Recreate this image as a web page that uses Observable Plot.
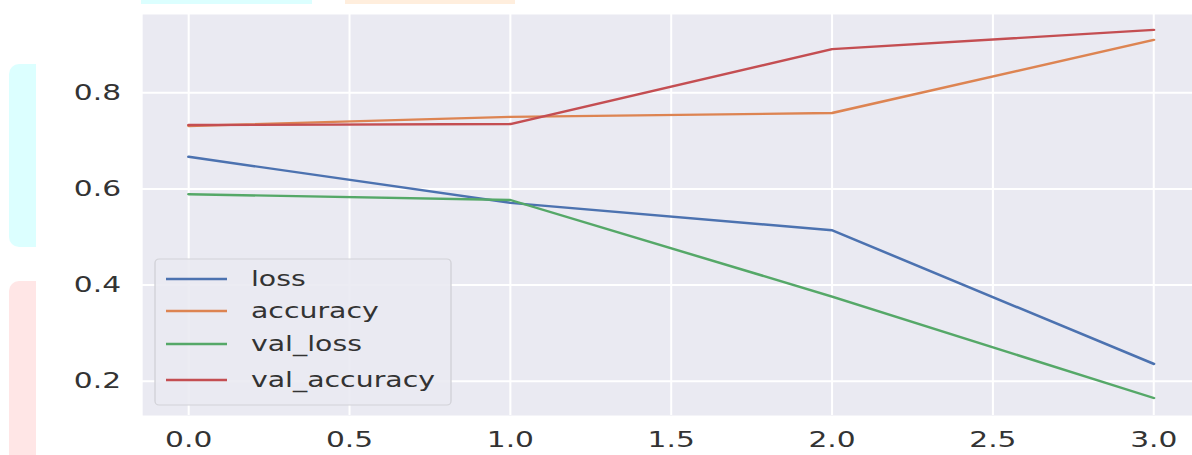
<!DOCTYPE html>
<html>
<head>
<meta charset="utf-8">
<script src="https://cdn.jsdelivr.net/npm/d3@7"></script>
<script src="https://cdn.jsdelivr.net/npm/@observablehq/plot@0.6"></script>
<style>
  html, body { margin: 0; padding: 0; background: #ffffff; }
  #wrap { position: relative; width: 1192px; height: 455px; overflow: hidden; }
  .deco { position: absolute; }
</style>
</head>
<body>
<div id="wrap">
  <div class="deco" style="left:141px;top:0;width:171px;height:4px;background:#dcffff;"></div>
  <div class="deco" style="left:345px;top:0;width:170px;height:4px;background:#ffeedd;"></div>
  <div class="deco" style="left:9px;top:64px;width:27px;height:183px;background:#dcffff;border-radius:10px 0 0 10px;"></div>
  <div class="deco" style="left:9px;top:281px;width:27px;height:180px;background:#ffe6e6;border-radius:10px 0 0 0;"></div>
  <div id="chart" style="position:absolute;left:0;top:0;"></div>
</div>
<script>
// ---- data ----
const epochs = [0, 1, 2, 3];
const loss = [0.667, 0.571, 0.514, 0.236];
const accuracy = [0.731, 0.750, 0.758, 0.910];
const val_loss = [0.589, 0.577, 0.376, 0.165];
const val_accuracy = [0.733, 0.735, 0.891, 0.931];
const seriesNames = ["loss", "accuracy", "val_loss", "val_accuracy"];
const seriesColors = ["#4C72B0", "#DD8452", "#55A868", "#C44E52"];
const xTicks = [0, 0.5, 1, 1.5, 2, 2.5, 3];
const yTicks = [0.2, 0.4, 0.6, 0.8];

const seriesValues = [loss, accuracy, val_loss, val_accuracy];
const rows = [];
seriesNames.forEach((name, i) => {
  epochs.forEach((e, j) => rows.push({series: name, epoch: e, value: seriesValues[i][j]}));
});

// horizontal stretch of the reference picture
const S = 1.35;
const W = 1192 / S;
const H = 455;

const chart = Plot.plot({
  width: W,
  height: H,
  marginLeft: 142 / S,
  marginRight: 0,
  marginTop: 14,
  marginBottom: 40,
  style: {fontFamily: "DejaVu Sans, sans-serif", fontSize: "22px", color: "#333333", background: "transparent"},
  x: {domain: [-0.143, 3.121], ticks: xTicks, tickFormat: d3.format(".1f"), label: null},
  y: {domain: [0.1286, 0.963], ticks: yTicks, tickFormat: d3.format(".1f"), label: null},
  color: {domain: seriesNames, range: seriesColors},
  marks: [
    Plot.frame({fill: "#EAEAF2", stroke: null}),
    Plot.gridX(xTicks, {stroke: "#ffffff", strokeOpacity: 1, strokeWidth: 1.5}),
    Plot.gridY(yTicks, {stroke: "#ffffff", strokeOpacity: 1, strokeWidth: 2}),
    Plot.axisX({ticks: xTicks, tickFormat: d3.format(".1f"), tickSize: 0, tickPadding: 16, fontSize: 22, label: null}),
    Plot.axisY({ticks: yTicks, tickFormat: d3.format(".1f"), tickSize: 0, tickPadding: 16, fontSize: 22, label: null}),
    Plot.line(rows, {x: "epoch", y: "value", z: "series", stroke: "series", strokeWidth: 2.4})
  ]
});

// legend (drawn in the same stretched coordinate system)
const svg = d3.select(chart);
const lg = svg.append("g").attr("class", "legend").attr("text-anchor", "start");
const bx = 155 / S, by = 259, bw = (451 - 155) / S, bh = 146;
lg.append("rect")
  .attr("x", bx).attr("y", by).attr("width", bw).attr("height", bh)
  .attr("rx", 3).attr("ry", 4)
  .attr("fill", "#EAEAF2").attr("fill-opacity", 0.9)
  .attr("stroke", "#d2d2d8").attr("stroke-width", 1);
const rowY = [279, 311, 344, 380];
seriesNames.forEach((name, i) => {
  lg.append("line")
    .attr("x1", 166 / S).attr("x2", 227 / S)
    .attr("y1", rowY[i]).attr("y2", rowY[i])
    .attr("stroke", seriesColors[i]).attr("stroke-width", 2.4);
  lg.append("text")
    .attr("x", 251 / S).attr("y", rowY[i]).attr("dy", "0.35em")
    .attr("text-anchor", "start")
    .attr("font-family", "DejaVu Sans, sans-serif").attr("font-size", 21)
    .attr("fill", "#333333")
    .text(name);
});

chart.setAttribute("width", 1192);
chart.setAttribute("height", H);
chart.setAttribute("viewBox", `0 0 ${W} ${H}`);
chart.setAttribute("preserveAspectRatio", "none");
chart.style.maxWidth = "none";
chart.style.width = "1192px";
chart.style.height = H + "px";
document.getElementById("chart").appendChild(chart);
</script>
</body>
</html>
